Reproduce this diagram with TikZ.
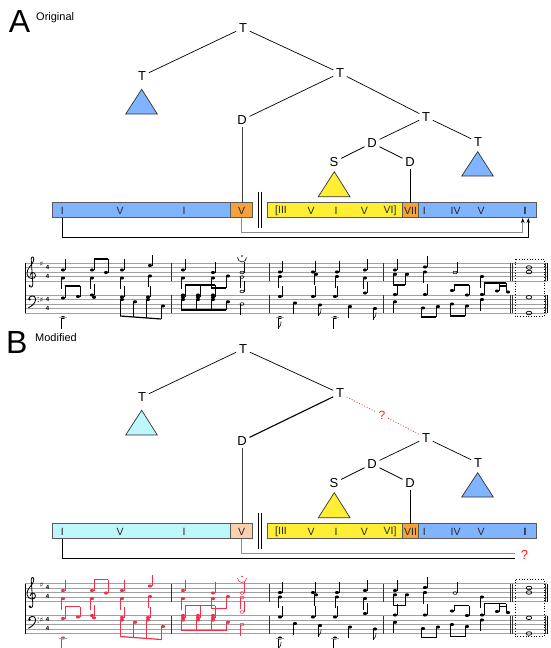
\documentclass[tikz,border=0pt]{standalone}
\usepackage{fontspec}
\setmainfont{Liberation Sans}
\newfontfamily\dejavu{DejaVu Sans}
\usetikzlibrary{arrows.meta}
\definecolor{tblue}{HTML}{80B4FF}
\definecolor{torange}{HTML}{F4A23C}
\definecolor{tyellow}{HTML}{FFEE33}
\definecolor{tcyan}{HTML}{BDF6FB}
\definecolor{tpeach}{HTML}{FBD0AC}
\definecolor{staffgray}{HTML}{A0A0A0}
\definecolor{nred}{HTML}{F2304A}
\definecolor{qred}{HTML}{FF1A1A}
% music helpers
\newcommand{\mnh}[3]{\fill[#3] (#1,#2) ellipse (2.1 and 1.55);}
\newcommand{\mhh}[3]{\draw[#3, line width=0.55pt] (#1,#2) ellipse (2.0 and 1.35);}
\newcommand{\mqu}[3]{\mnh{#1}{#2}{#3}\draw[#3, line width=0.45pt] (#1+1.9,#2) -- (#1+1.9,#2-11);}
\newcommand{\mqd}[3]{\mnh{#1}{#2}{#3}\draw[#3, line width=0.45pt] (#1-1.9,#2) -- (#1-1.9,#2+11);}
\newcommand{\mhu}[3]{\mhh{#1}{#2}{#3}\draw[#3, line width=0.45pt] (#1+1.9,#2) -- (#1+1.9,#2-11);}
\newcommand{\mhd}[3]{\mhh{#1}{#2}{#3}\draw[#3, line width=0.45pt] (#1-1.9,#2) -- (#1-1.9,#2+11);}
\newcommand{\mstem}[4]{\draw[#4, line width=0.45pt] (#1,#2) -- (#1,#3);}
\newcommand{\mbeam}[5]{\draw[#5, line width=1.2pt] (#1,#2) -- (#3,#4);}
\newcommand{\mflag}[3]{\draw[#3, line width=0.55pt] (#1,#2) .. controls (#1+1.5,#2-3) and (#1+4,#2-4) .. (#1+3,#2-7);}
\newcommand{\musicscore}[1]{%
  % staves
  \foreach \i in {0,...,4} {
    \draw[staffgray, line width=0.5pt] (25,263+4.5*\i) -- (547,263+4.5*\i);
    \draw[staffgray, line width=0.5pt] (25,295+4.5*\i) -- (547,295+4.5*\i);
  }
  \draw[black, line width=0.6pt] (25,263) -- (25,313);
  \foreach \bx in {171.7,269.3,383.3,510.5,512.5,545.3} {
    \draw[black!80, line width=0.5pt] (\bx,263) -- (\bx,281);
    \draw[black!80, line width=0.5pt] (\bx,295) -- (\bx,313);
  }
  \draw[black, line width=1.6pt] (547.6,263) -- (547.6,281);
  \draw[black, line width=1.6pt] (547.6,295) -- (547.6,313);
  % treble clef (drawn)
  \draw[black, line width=0.8pt] (29.5,286.5) .. controls (32,288.5) and (33.5,285.5) .. (32.6,281)
     -- (31.2,259) .. controls (31.5,255.5) and (34.8,256.5) .. (33.5,261)
     .. controls (32.5,265) and (26.5,268) .. (27,274)
     .. controls (27.5,279.5) and (35.5,280) .. (35.5,275.5)
     .. controls (35.5,271.5) and (30,271.5) .. (30.3,275.5);
  \fill[black] (29.8,286) circle (1.1);
  % bass clef (drawn)
  \fill[black] (29.6,299.2) circle (1.3);
  \draw[black, line width=0.9pt] (28.7,299.5) .. controls (28.5,295.5) and (35.5,294.2) .. (35.6,299)
     .. controls (35.7,303) and (32,306) .. (28.3,307.8);
  \fill[black] (38.2,297.6) circle (0.6);
  \fill[black] (38.2,301.6) circle (0.6);
  \node[font=\dejavu\fontsize{7}{7}\selectfont, inner sep=0pt] at (41.5,264) {♯};
  \node[font=\dejavu\fontsize{7}{7}\selectfont, inner sep=0pt] at (41.5,299.5) {♯};
  \foreach \ty in {267.4,276.4,299.4,308.4}
    \node[font=\bfseries\fontsize{6}{6}\selectfont, inner sep=0pt] at (47.5,\ty) {4};
  % ---- measure 1 treble
  \mqu{63}{270}{#1}\mqd{63}{278}{#1}
  \mnh{92}{270}{#1}\mnh{106}{272.5}{#1}
  \mstem{93.9}{270}{259}{#1}\mstem{107.9}{272.5}{259}{#1}\mbeam{93.9}{259}{107.9}{259}{#1}
  \mqd{92}{278}{#1}
  \mqu{122}{270}{#1}\mqd{122}{278}{#1}
  \mqu{150}{265.5}{#1}\mqd{150}{276}{#1}
  % ---- measure 1 bass
  \mnh{63}{298}{#1}\mnh{78}{296.5}{#1}
  \mstem{64.9}{298}{286}{#1}\mstem{79.9}{296.5}{286}{#1}\mbeam{64.9}{286}{79.9}{286}{#1}
  \mqd{63}{317.5}{#1}\draw[staffgray,line width=0.5pt] (59,317.5) -- (67,317.5);
  \mqu{92}{295}{#1}\mnh{94}{297.3}{#1}
  \mqu{122}{297}{#1}\mqu{148}{297}{#1}
  \mnh{122}{299.5}{#1}\mnh{135}{301.8}{#1}\mnh{148}{299.5}{#1}\mnh{163}{306}{#1}
  \mstem{120.1}{299.5}{316}{#1}\mstem{133.1}{301.8}{317}{#1}\mstem{146.1}{299.5}{318}{#1}\mstem{161.1}{306}{319}{#1}
  \mbeam{120.1}{316}{161.1}{319}{#1}
  % ---- measure 2 treble
  \mqu{183}{270}{#1}\mqd{183}{278}{#1}
  \mqu{213}{272.5}{#1}
  \mnh{213}{278}{#1}\mnh{228}{276}{#1}
  \mstem{211.1}{278}{288}{#1}\mstem{226.1}{276}{288}{#1}\mbeam{211.1}{288}{226.1}{288}{#1}
  \mhu{242}{272.5}{#1}\mhd{242}{277}{#1}
  \draw[#1, line width=0.6pt] (237.5,257.5) arc (180:0:4.5);
  \fill[#1] (242,256) circle (0.8);
  % ---- measure 2 bass
  \foreach \nx in {183,198,213} {\mnh{\nx}{295}{#1}\mnh{\nx}{297.3}{#1}\mstem{\nx+1.9}{297.3}{285}{#1}}
  \mbeam{184.9}{285}{214.9}{285}{#1}
  \mnh{183}{299.5}{#1}\mnh{198}{299.5}{#1}\mnh{213}{299.5}{#1}\mnh{228}{301.8}{#1}
  \foreach \nx/\ny in {183/299.5,198/299.5,213/299.5,228/301.8} {\mstem{\nx-1.9}{\ny}{310}{#1}}
  \mbeam{181.1}{310}{226.1}{310}{#1}
  \mhu{242}{291.5}{#1}\mhd{242}{304}{#1}
  % ---- measure 3 treble
  \mqu{280}{272}{black}\mqd{280}{276.5}{black}
  \mqu{313}{272}{black}\mqd{316}{274.3}{black}
  \mqu{337}{272}{black}\mqd{337}{276.5}{black}
  \mqu{365}{270}{black}\mqd{365}{278}{black}
  % ---- measure 3 bass
  \mqu{280}{296.5}{black}\mqu{313}{296.5}{black}\mqu{335}{296.5}{black}\mqu{365}{293}{black}
  \mqd{280}{317.5}{black}\draw[staffgray,line width=0.5pt] (276,317.5) -- (284,317.5);\mflag{278.1}{328.5}{black}
  \mqd{295}{303}{black}
  \mqd{320}{305}{black}\mflag{318.1}{316}{black}
  \mqd{335}{317.5}{black}\draw[staffgray,line width=0.5pt] (331,317.5) -- (339,317.5);
  \mqd{350}{306.5}{black}
  \mqd{375}{308.5}{black}\mflag{373.1}{319.5}{black}
  % ---- measure 4 treble
  \mqu{395}{270}{black}
  \mnh{395}{274.3}{black}\mnh{407}{274.3}{black}
  \mstem{393.1}{274.3}{285}{black}\mstem{405.1}{274.3}{285}{black}\mbeam{393.1}{285}{405.1}{285}{black}
  \mqu{425}{267}{black}\mqd{425}{272}{black}
  \mhu{455}{272.5}{black}
  \mqd{482}{276.5}{black}
  % ---- measure 4 bass
  \mqu{395}{294.5}{black}\mqu{425}{294.5}{black}
  \mnh{452}{290.5}{black}\mnh{467}{295}{black}
  \mstem{453.9}{290.5}{285}{black}\mstem{468.9}{295}{285}{black}\mbeam{453.9}{285}{468.9}{285}{black}
  \mnh{482}{294.5}{black}\mnh{497}{291}{black}\mnh{508}{292}{black}
  \mstem{483.9}{294.5}{283}{black}\mstem{498.9}{291}{283}{black}\mstem{506.1}{292}{283}{black}
  \mbeam{483.9}{283}{506.1}{283}{black}\mbeam{498.9}{286}{506.1}{286}{black}
  \mqd{395}{301.8}{black}
  \mnh{423}{308}{black}\mnh{438}{306.5}{black}
  \mstem{421.1}{308}{317}{black}\mstem{436.1}{306.5}{317}{black}\mbeam{421.1}{317}{436.1}{317}{black}
  \mnh{452}{304}{black}\mnh{467}{306}{black}
  \mstem{450.1}{304}{316}{black}\mstem{465.1}{306}{316}{black}\mbeam{450.1}{316}{465.1}{316}{black}
  \mqd{482}{299.5}{black}
  % ---- final chord
  \draw[black, line width=0.7pt] (529,267.5) ellipse (2.8 and 1.8);
  \draw[black, line width=0.7pt] (529,272) ellipse (2.8 and 1.8);
  \draw[black, line width=0.7pt] (529,297.3) ellipse (2.8 and 1.8);
  \draw[black, line width=0.7pt] (529,313) ellipse (2.8 and 1.8);
  \draw[black, dotted, line width=0.7pt] (515,259) rectangle (544,316);
}
\begin{document}
\begin{tikzpicture}[x=1pt,y=-1pt,
  tn/.style={font=\fontsize{13}{13}\selectfont, inner sep=2.6pt},
  edge/.style={draw=black, line width=0.7pt},
  tri/.style={draw=black!80, line width=0.7pt},
  seg/.style={draw=black!65, line width=0.7pt, inner sep=0pt, outer sep=0pt, minimum height=15pt},
  lab/.style={font=\fontsize{10.5}{10.5}\selectfont, text=black!85, inner sep=0pt},
  panel/.style={font=\fontsize{32}{32}\selectfont, inner sep=0pt},
  ptitle/.style={font=\fontsize{11}{11}\selectfont, inner sep=0pt, anchor=west},
  conn/.style={line width=0.8pt}]
\useasboundingbox (0,0) rectangle (551,648);

% ================= PANEL A =================
\node[panel] (pA) at (19.5,21.5) {A};
\node[ptitle] (pAt) at (36,17.5) {Original};

\node[tn] (a0) at (243,28) {T};
\node[tn] (a1) at (142,76) {T};
\node[tn] (a2) at (340,73) {T};
\node[tn] (a3) at (242,120) {D};
\node[tn] (a4) at (426,117) {T};
\node[tn] (a5) at (372,143) {D};
\node[tn] (a6) at (334,162) {S};
\node[tn] (a7) at (410,162) {D};
\node[tn] (a8) at (478,142) {T};
\draw[edge] (a0) -- (a1);
\draw[edge] (a0) -- (a2);
\draw[edge] (a2) -- (a3);
\draw[edge] (a2) -- (a4);
\draw[edge] (a4) -- (a5);
\draw[edge] (a4) -- (a8);
\draw[edge] (a5) -- (a6);
\draw[edge] (a5) -- (a7);
\draw[tri, fill=tblue] (141.7,89.3) -- (157.3,114) -- (125.7,114) -- cycle;
\draw[tri, fill=tyellow] (334.3,171.7) -- (350,196.7) -- (318.3,196.7) -- cycle;
\draw[tri, fill=tblue] (477.7,151.7) -- (493.3,176) -- (461.7,176) -- cycle;

\node[seg, fill=tblue, minimum width=177.7pt] (aB1) at (141.15,210.2) {};
\node[seg, fill=torange, minimum width=22.7pt] (aV) at (241.35,210.2) {};
\node[seg, fill=tyellow, minimum width=135.2pt] (aY) at (335.1,210.2) {};
\node[seg, fill=tblue, minimum width=118.4pt] (aB2) at (477.5,210.2) {};
\node[seg, fill=torange, minimum width=15.6pt] (aVII) at (410.5,210.2) {};
\node[lab] (aI1) at (62.3,210.5) {I};
\node[lab] at (120,210.5) {V};
\node[lab] at (184,210.5) {I};
\node[lab] at (241.7,210.5) {V};
\node[lab] at (281,210.5) {[III};
\node[lab] at (311,210.5) {V};
\node[lab] at (336,210.5) {I};
\node[lab] at (364.3,210.5) {V};
\node[lab] at (390,210.5) {VI]};
\node[lab] at (410.5,210.5) {VII};
\node[lab] at (424.3,210.5) {I};
\node[lab] at (455.7,210.5) {IV};
\node[lab] at (481,210.5) {V};
\node[lab, font=\bfseries\fontsize{10.5}{10.5}\selectfont] at (525,210.5) {I};
\draw[edge, draw=black!75] (a3) -- (a3 |- aV.north);
\draw[edge] (a7) -- (a7 |- aVII.north);
\draw[black, line width=0.8pt] (258.3,191.7) -- (258.3,228.3);
\draw[black, line width=0.8pt] (261.7,191.7) -- (261.7,228.3);
\coordinate (aE1) at (522.7,218);
\coordinate (aE2) at (528.3,218);
\draw[conn, black!45, -{Stealth[length=5pt,width=3.6pt,color=black]}] (aV.south) -- ++(0,14.3) -| (aE1);
\draw[conn, black, -{Stealth[length=5pt,width=3.6pt]}] (aI1 |- aB1.south) -- ++(0,19.3) -| (aE2);

\begin{scope}
\musicscore{black}
\end{scope}

% ================= PANEL B =================
\node[panel] (pB) at (16.7,342.5) {B};
\node[ptitle] (pBt) at (35,338) {Modified};

\node[tn] (b0) at (243,349) {T};
\node[tn] (b1) at (142,397) {T};
\node[tn] (b2) at (340,393.5) {T};
\node[tn] (b3) at (242,441) {D};
\node[tn] (b4) at (426,438) {T};
\node[tn] (b5) at (372,464) {D};
\node[tn] (b6) at (334,483) {S};
\node[tn] (b7) at (410,483) {D};
\node[tn] (b8) at (478,463) {T};
\node[tn, text=qred, font=\fontsize{12}{12}\selectfont] (bq) at (382,415) {?};
\draw[edge] (b0) -- (b1);
\draw[edge] (b0) -- (b2);
\draw[edge, line width=1.1pt] (b2) -- (b3);
\draw[qred, dotted, line width=0.8pt] (b2) -- (bq);
\draw[qred, dotted, line width=0.8pt] (bq) -- (b4);
\draw[edge] (b4) -- (b5);
\draw[edge] (b4) -- (b8);
\draw[edge] (b5) -- (b6);
\draw[edge] (b5) -- (b7);
\draw[tri, fill=tcyan] (141.7,410.3) -- (157.3,435) -- (125.7,435) -- cycle;
\draw[tri, fill=tyellow] (334.3,492.7) -- (350,517.7) -- (318.3,517.7) -- cycle;
\draw[tri, fill=tblue] (477.7,472.7) -- (493.3,497) -- (461.7,497) -- cycle;

\node[seg, fill=tcyan, minimum width=177.7pt] (bB1) at (141.15,531.2) {};
\node[seg, fill=tpeach, minimum width=22.7pt] (bV) at (241.35,531.2) {};
\node[seg, fill=tyellow, minimum width=135.2pt] (bY) at (335.1,531.2) {};
\node[seg, fill=tblue, minimum width=118.4pt] (bB2) at (477.5,531.2) {};
\node[seg, fill=torange, minimum width=15.6pt] (bVII) at (410.5,531.2) {};
\node[lab] (bI1) at (62.3,531.5) {I};
\node[lab] at (120,531.5) {V};
\node[lab] at (184,531.5) {I};
\node[lab] at (241.7,531.5) {V};
\node[lab] at (281,531.5) {[III};
\node[lab] at (311,531.5) {V};
\node[lab] at (336,531.5) {I};
\node[lab] at (364.3,531.5) {V};
\node[lab] at (390,531.5) {VI]};
\node[lab] at (410.5,531.5) {VII};
\node[lab] at (424.3,531.5) {I};
\node[lab] at (455.7,531.5) {IV};
\node[lab] at (481,531.5) {V};
\node[lab, font=\bfseries\fontsize{10.5}{10.5}\selectfont] at (525,531.5) {I};
\draw[edge, draw=black!75] (b3) -- (b3 |- bV.north);
\draw[edge] (b7) -- (b7 |- bVII.north);
\draw[black, line width=0.8pt] (258.3,512.7) -- (258.3,549.3);
\draw[black, line width=0.8pt] (261.7,512.7) -- (261.7,549.3);
\coordinate (bE1) at (515,553.3);
\coordinate (bE2) at (515,558.3);
\draw[conn, black!45] (bV.south) |- (bE1);
\draw[conn, black] (bI1 |- bB1.south) |- (bE2);
\node[text=qred, font=\fontsize{13}{13}\selectfont, inner sep=0pt] (bqq) at (524.5,555) {?};

\begin{scope}[shift={(0,320.5)}]
\musicscore{nred}
\end{scope}
\end{tikzpicture}
\end{document}
